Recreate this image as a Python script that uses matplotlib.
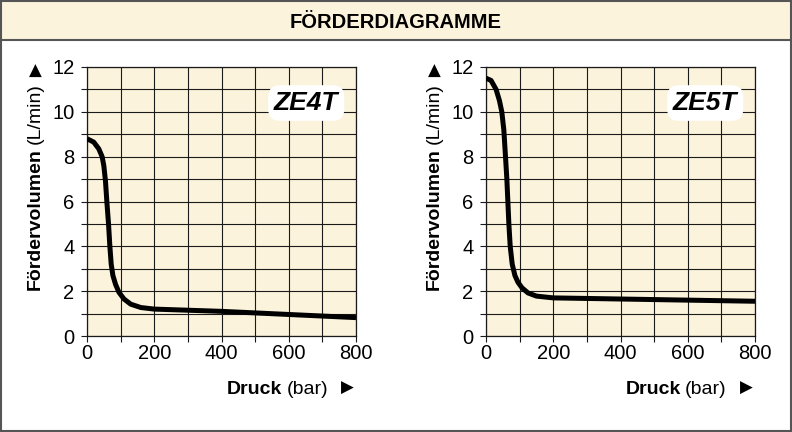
import matplotlib.pyplot as plt
from matplotlib.patches import Rectangle
import numpy as np

# Curve readings (pressure in bar, flow in L/min)
druck_ze4t = [0, 20, 35, 45, 50, 55, 59, 64, 68, 72, 77, 85, 95, 110, 130, 160, 200, 300, 400, 500, 600, 700, 800]
vol_ze4t = [8.8, 8.65, 8.35, 8.0, 7.6, 6.9, 6.0, 5.0, 4.0, 3.2, 2.7, 2.3, 1.95, 1.65, 1.42, 1.27, 1.2, 1.15, 1.1, 1.03, 0.96, 0.89, 0.82]
druck_ze5t = [0, 15, 30, 40, 47, 53, 58, 62, 65, 68, 72, 78, 86, 95, 107, 125, 150, 200, 400, 600, 800]
vol_ze5t = [11.5, 11.4, 11.0, 10.5, 10.0, 9.2, 8.0, 7.0, 6.0, 5.0, 4.0, 3.2, 2.7, 2.4, 2.15, 1.92, 1.78, 1.7, 1.65, 1.6, 1.55]
models = ["ZE4T", "ZE5T"]
x_ticks = [0, 200, 400, 600, 800]
y_ticks = [0, 2, 4, 6, 8, 10, 12]

cream = "#fcf3dc"
W, H = 792, 432

plt.rcParams['font.family'] = ['Liberation Sans', 'DejaVu Sans']
fig = plt.figure(figsize=(W / 100, H / 100), dpi=100)


def fx(px):
    return px / W


def fy(py):
    return 1 - py / H


# Frame and header band
fig.patches.append(Rectangle((fx(1), fy(431)), fx(790), 430 / H, transform=fig.transFigure,
                             facecolor="white", edgecolor="#555555", linewidth=1.5, zorder=-2))
fig.patches.append(Rectangle((fx(1), fy(40)), fx(790), 39 / H, transform=fig.transFigure,
                             facecolor=cream, edgecolor="#555555", linewidth=1.5, zorder=-1))
fig.text(0.5, fy(22), "FÖRDERDIAGRAMME", ha="center", va="center",
         fontsize=14.5, fontweight="bold")


def px_box(left, right, top, bottom):
    return [fx(left), fy(bottom), (right - left) / W, (bottom - top) / H]


lefts = [87, 486]
series = [(druck_ze4t, vol_ze4t), (druck_ze5t, vol_ze5t)]
renderer = fig.canvas.get_renderer()

for left, (xs, ys), name in zip(lefts, series, models):
    ax = fig.add_axes(px_box(left, left + 269, 67, 336))
    ax.set_facecolor(cream)
    ax.set_xlim(0, 800)
    ax.set_ylim(0, 12)
    ax.set_xticks(x_ticks)
    ax.set_yticks(y_ticks)
    ax.set_xticks(np.arange(0, 801, 100), minor=True)
    ax.set_yticks(np.arange(0, 13, 1), minor=True)
    ax.grid(True, which="both", color="#1a1a1a", linewidth=0.8)
    ax.set_axisbelow(True)
    ax.tick_params(which="both", direction="out", length=4, width=0.8, color="#1a1a1a",
                   labelsize=14.5)
    ax.tick_params(axis="y", which="both", pad=5)
    ax.tick_params(axis="x", which="both", pad=2)
    for s in ax.spines.values():
        s.set_color("#1a1a1a")
        s.set_linewidth(0.9)
    ax.plot(xs, ys, color="black", linewidth=3.6, solid_capstyle="butt",
            solid_joinstyle="round", zorder=3)

    ax.text(0.815, 0.866, name, transform=ax.transAxes, ha="center", va="center",
            fontsize=19, fontweight="bold", fontstyle="italic",
            bbox=dict(boxstyle="round,pad=0.22,rounding_size=0.45", facecolor="white", edgecolor="none"),
            zorder=4)

    # y label: bold part, normal part, arrow
    off = left - 87
    t1 = fig.text(fx(35 + off), fy(290), "Fördervolumen", rotation=90, ha="center", va="bottom",
                  fontsize=14, fontweight="bold")
    bb = t1.get_window_extent(renderer)
    fig.text(fx(35 + off), (bb.y1 + 4) / H, "(L/min)", rotation=90, ha="center", va="bottom",
             fontsize=14)
    fig.text(fx(35 + off), fy(71), "▲", ha="center", va="center", fontsize=12,
             family=['DejaVu Sans'])

    # x label: bold part, normal part, arrow
    t2 = fig.text(fx(227 + off), fy(389), "Druck", ha="left", va="center",
                  fontsize=14, fontweight="bold")
    bb = t2.get_window_extent(renderer)
    fig.text((bb.x1 + 4) / W, fy(389), "(bar)", ha="left", va="center", fontsize=14)
    fig.text(fx(347 + off), fy(388), "▶", ha="center", va="center", fontsize=12,
             family=['DejaVu Sans'])

fig.savefig("out.png", dpi=100)
